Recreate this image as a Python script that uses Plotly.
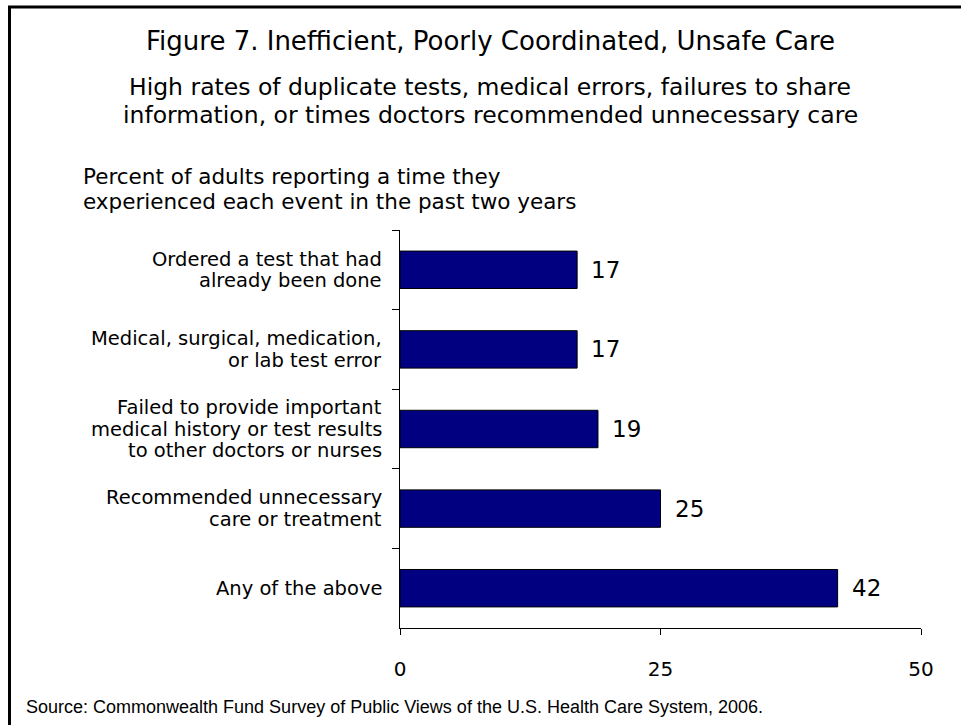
import plotly.graph_objects as go

# Survey results: percent of adults reporting each event in the past two years
categories = [
    "Ordered a test that had|already been done",
    "Medical, surgical, medication,|or lab test error",
    "Failed to provide important|medical history or test results|to other doctors or nurses",
    "Recommended unnecessary|care or treatment",
    "Any of the above",
]
percents = [17, 17, 19, 25, 42]
x_ticks = [0, 25, 50]

title = "Figure 7. Inefficient, Poorly Coordinated, Unsafe Care"
subtitle_lines = [
    "High rates of duplicate tests, medical errors, failures to share",
    "information, or times doctors recommended unnecessary care",
]
axis_title_lines = [
    "Percent of adults reporting a time they",
    "experienced each event in the past two years",
]
source = "Source: Commonwealth Fund Survey of Public Views of the U.S. Health Care System, 2006."

W, H = 961, 725
L, R, T, B = 400, 40, 230, 97
PW, PH = W - L - R, H - T - B


def px(xpix):
    return (xpix - L) / PW


def py(ypix):
    return (H - B - ypix) / PH


FONT = "Verdana, DejaVu Sans, sans-serif"
BLACK = "#000000"

fig = go.Figure(
    go.Bar(
        x=percents,
        y=categories,
        orientation="h",
        width=0.47,
        marker=dict(color="#000080", line=dict(color=BLACK, width=1)),
        hoverinfo="skip",
    )
)

# value labels just past the end of each bar
for v, c in zip(percents, categories):
    fig.add_annotation(
        x=v, y=c, xref="x", yref="y", text=str(v), showarrow=False,
        xanchor="left", yanchor="middle", xshift=12,
        font=dict(family=FONT, size=23, color=BLACK),
    )

# category labels, one annotation per line for tight line spacing
CAT_LINE = 21.5
for c in categories:
    lines = c.split("|")
    n = len(lines)
    for i, line in enumerate(lines):
        fig.add_annotation(
            x=px(384), y=c, xref="paper", yref="y", text=line, showarrow=False,
            xanchor="right", yanchor="middle",
            yshift=((n - 1) / 2 - i) * CAT_LINE,
            font=dict(family=FONT, size=19.5, color=BLACK),
        )


def text_at(text, xpix, ypix, size, xanchor="center", family=FONT):
    fig.add_annotation(
        x=px(xpix), y=py(ypix), xref="paper", yref="paper", text=text,
        showarrow=False, xanchor=xanchor, yanchor="middle", borderpad=0,
        font=dict(family=family, size=size, color=BLACK),
    )


text_at(title, 490, 41, 26)
for line, ypix in zip(subtitle_lines, [87, 115]):
    text_at(line, 490, ypix, 23.5)
for line, ypix in zip(axis_title_lines, [177, 202]):
    text_at(line, 82, ypix, 21.5, xanchor="left")
text_at(source, 25, 707, 18, xanchor="left", family="Arial, Liberation Sans, sans-serif")

# outer frame (top and left edges)
fig.add_shape(type="line", xref="paper", yref="paper",
              x0=px(8), x1=px(W + 5), y0=py(7), y1=py(7),
              line=dict(color=BLACK, width=3))
fig.add_shape(type="line", xref="paper", yref="paper",
              x0=px(9.5), x1=px(9.5), y0=py(6), y1=py(H + 5),
              line=dict(color=BLACK, width=3))

fig.update_layout(
    width=W, height=H,
    margin=dict(l=L, r=R, t=T, b=B, pad=0),
    paper_bgcolor="#ffffff", plot_bgcolor="#ffffff",
    showlegend=False,
    xaxis=dict(
        range=[0, 50], tickvals=x_ticks, ticktext=[str(v) for v in x_ticks],
        showgrid=False, zeroline=False, showline=True, linecolor=BLACK, linewidth=1,
        ticks="outside", ticklen=6, tickcolor=BLACK, tickwidth=1,
        ticklabelstandoff=17,
        tickfont=dict(family=FONT, size=20, color=BLACK),
        fixedrange=True,
    ),
    yaxis=dict(
        autorange="reversed", type="category",
        showgrid=False, zeroline=False, showline=True, linecolor=BLACK, linewidth=1,
        ticks="outside", tickson="boundaries", ticklen=7, tickcolor=BLACK, tickwidth=1,
        showticklabels=False,
        fixedrange=True,
    ),
)

fig.write_html("out.html", config={"displayModeBar": False})
